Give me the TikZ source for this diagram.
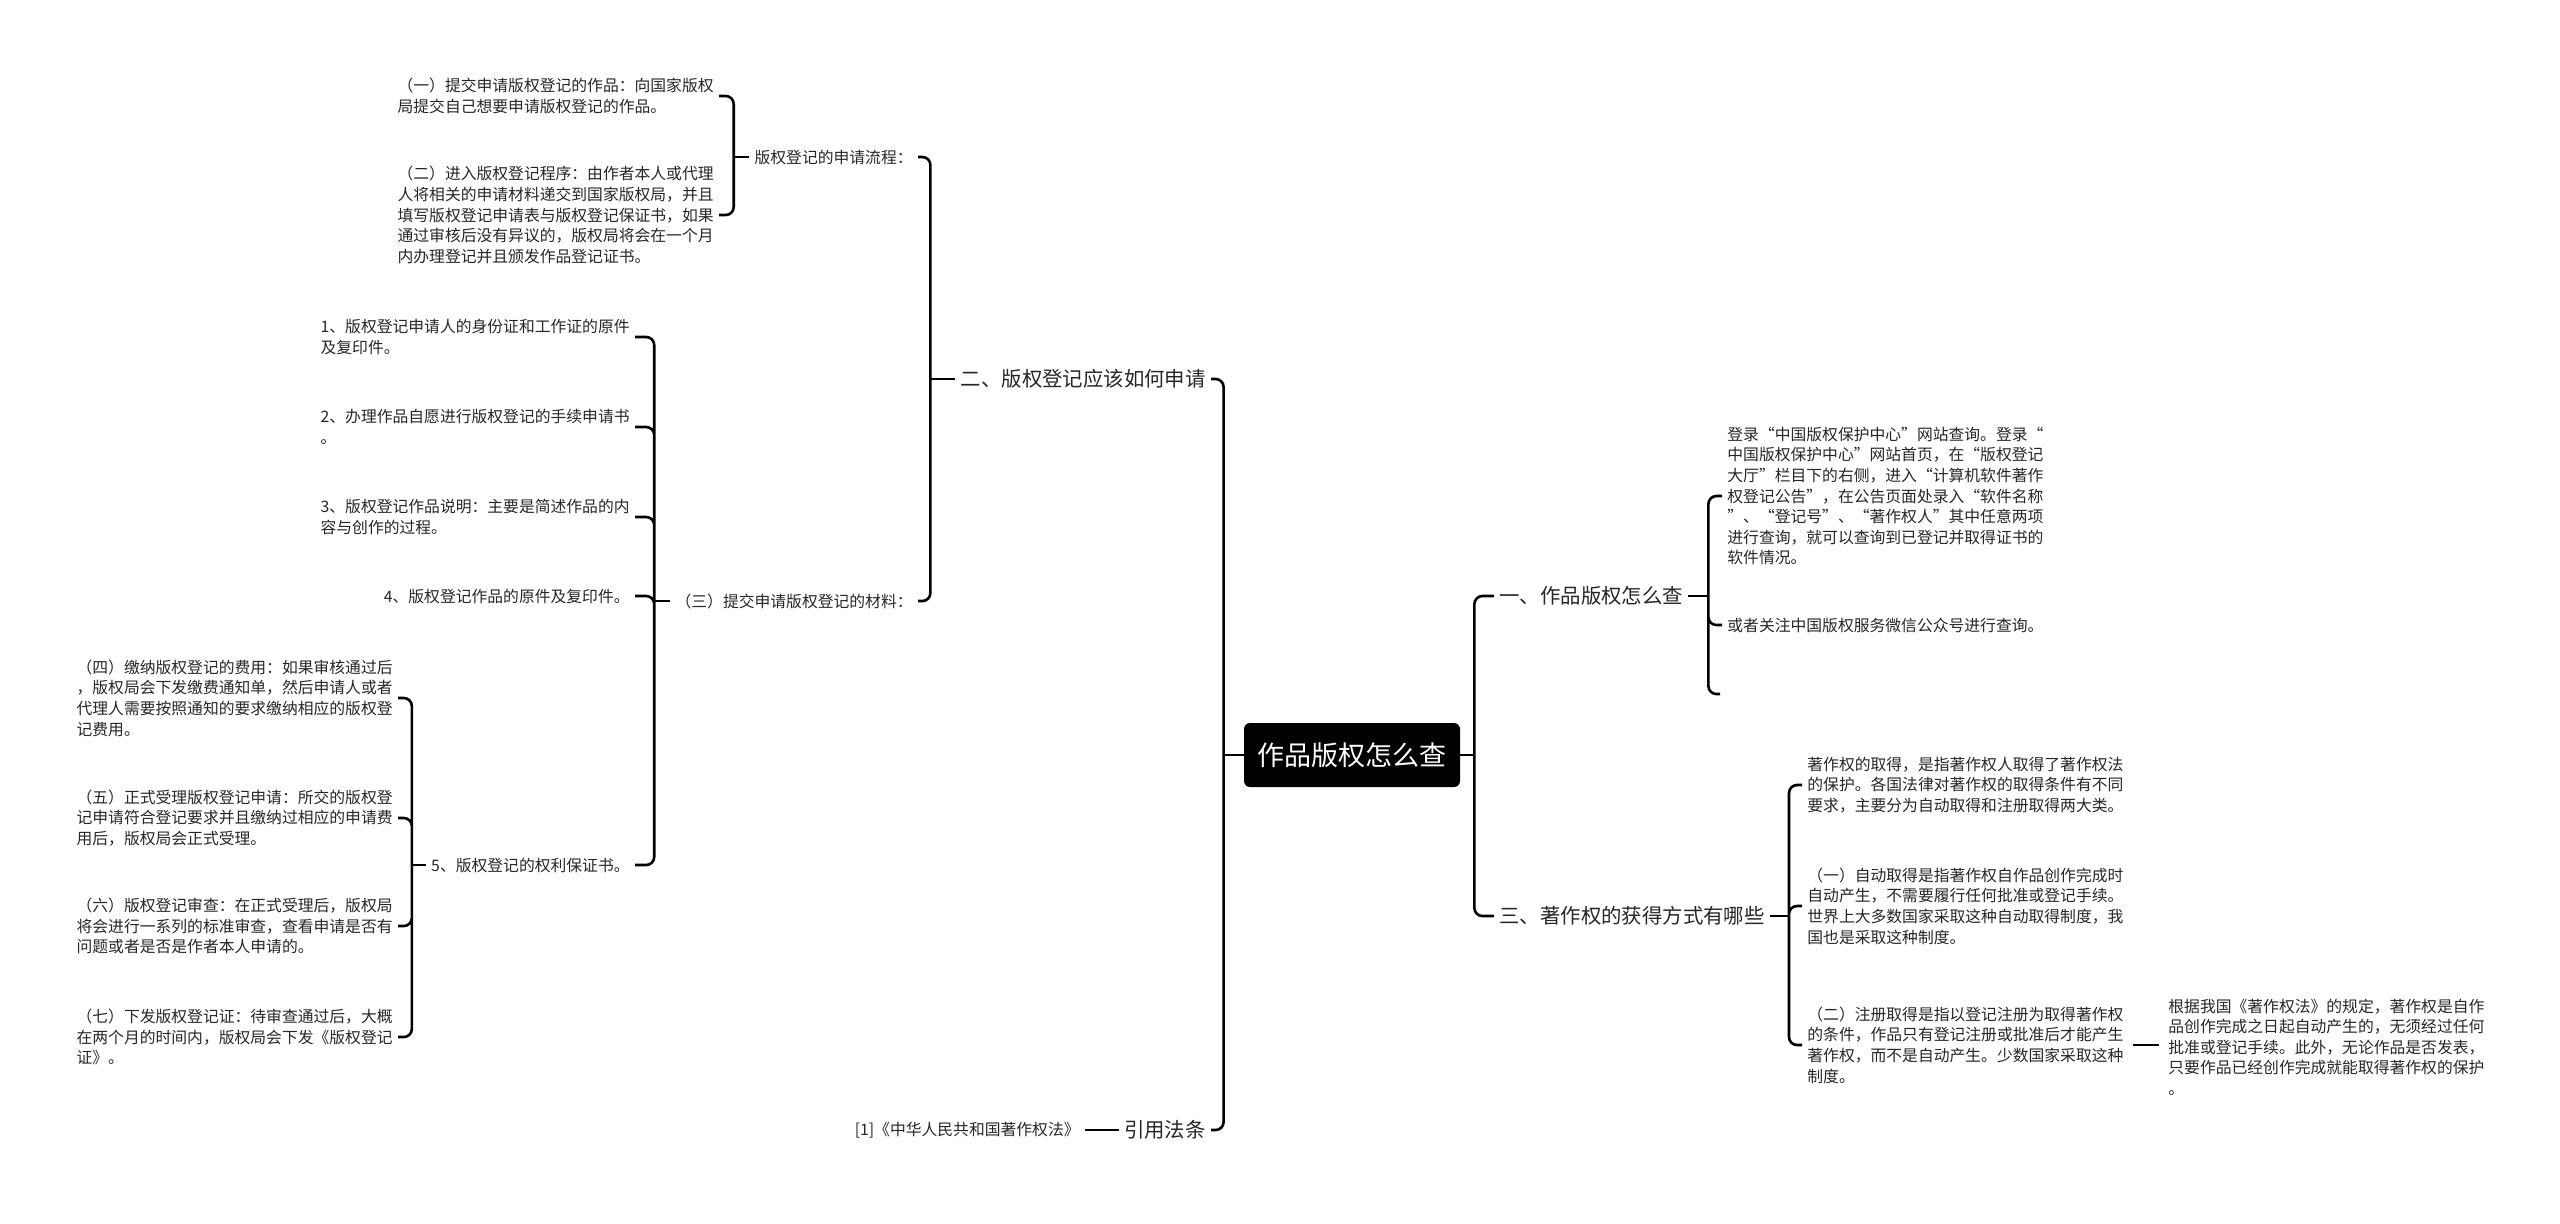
\documentclass[tikz,border=0pt]{standalone}
\usepackage{fontspec}
\setmainfont{Noto Sans CJK SC}

\begin{document}
\begin{tikzpicture}[
  x=0.5pt, y=-0.5pt,
  link/.style={line width=1.3pt, rounded corners=4pt},
  rootbox/.style={fill=black, text=white, rounded corners=3pt, minimum width=108pt, minimum height=32pt, inner sep=0pt, font=\fontsize{13.5}{16}\selectfont},
  topic/.style={text=black!85, inner xsep=2.5pt, inner ysep=1pt, font=\fontsize{10.2}{12}\selectfont},
  leaf/.style={text=black!85, inner xsep=2.5pt, inner ysep=1pt, align=left, font=\fontsize{7.9}{10.3}\selectfont}
]
\useasboundingbox (0,0) rectangle (2560,1223);
\node[rootbox] (root) at (1352,755) {作品版权怎么查};

\node[topic, anchor=east] (apply) at (1211,379) {二、版权登记应该如何申请};
\node[topic, anchor=east] (cite) at (1211,1130) {引用法条};
\node[topic, anchor=west] (query) at (1494,596) {一、作品版权怎么查};
\node[topic, anchor=west] (gain) at (1494,916) {三、著作权的获得方式有哪些};

\node[leaf, anchor=east] (flow) at (918,157) {版权登记的申请流程：};
\node[leaf, anchor=east] (docs) at (918,601) {（三）提交申请版权登记的材料：};

\node[leaf, anchor=east] (flowa) at (719,96) {（一）提交申请版权登记的作品：向国家版权\\局提交自己想要申请版权登记的作品。};
\node[leaf, anchor=east] (flowb) at (719,215) {（二）进入版权登记程序：由作者本人或代理\\人将相关的申请材料递交到国家版权局，并且\\填写版权登记申请表与版权登记保证书，如果\\通过审核后没有异议的，版权局将会在一个月\\内办理登记并且颁发作品登记证书。};

\node[leaf, anchor=east] (doca) at (635,337) {1、版权登记申请人的身份证和工作证的原件\\及复印件。};
\node[leaf, anchor=east] (docb) at (635,427) {2、办理作品自愿进行版权登记的手续申请书\\。};
\node[leaf, anchor=east] (docc) at (635,517) {3、版权登记作品说明：主要是简述作品的内\\容与创作的过程。};
\node[leaf, anchor=east] (docd) at (635,596) {4、版权登记作品的原件及复印件。};
\node[leaf, anchor=east] (doce) at (635,865) {5、版权登记的权利保证书。};

\node[leaf, anchor=east] (fee) at (398,698) {（四）缴纳版权登记的费用：如果审核通过后\\，版权局会下发缴费通知单，然后申请人或者\\代理人需要按照通知的要求缴纳相应的版权登\\记费用。};
\node[leaf, anchor=east] (accept) at (398,818) {（五）正式受理版权登记申请：所交的版权登\\记申请符合登记要求并且缴纳过相应的申请费\\用后，版权局会正式受理。};
\node[leaf, anchor=east] (review) at (398,926) {（六）版权登记审查：在正式受理后，版权局\\将会进行一系列的标准审查，查看申请是否有\\问题或者是否是作者本人申请的。};
\node[leaf, anchor=east] (issue) at (398,1037) {（七）下发版权登记证：待审查通过后，大概\\在两个月的时间内，版权局会下发《版权登记\\证》。};

\node[leaf, anchor=east] (law) at (1085,1130) {[1]《中华人民共和国著作权法》};

\node[leaf, anchor=west] (site) at (1722,496) {登录“中国版权保护中心”网站查询。登录“\\中国版权保护中心”网站首页，在“版权登记\\大厅”栏目下的右侧，进入“计算机软件著作\\权登记公告”，在公告页面处录入“软件名称\\”、“登记号”、“著作权人”其中任意两项\\进行查询，就可以查询到已登记并取得证书的\\软件情况。};
\node[leaf, anchor=west] (wechat) at (1722,625) {或者关注中国版权服务微信公众号进行查询。};
\coordinate (blank) at (1720,694);

\node[leaf, anchor=west] (gaina) at (1802,785) {著作权的取得，是指著作权人取得了著作权法\\的保护。各国法律对著作权的取得条件有不同\\要求，主要分为自动取得和注册取得两大类。};
\node[leaf, anchor=west] (gainb) at (1802,906) {（一）自动取得是指著作权自作品创作完成时\\自动产生，不需要履行任何批准或登记手续。\\世界上大多数国家采取这种自动取得制度，我\\国也是采取这种制度。};
\node[leaf, anchor=west] (gainc) at (1802,1045) {（二）注册取得是指以登记注册为取得著作权\\的条件，作品只有登记注册或批准后才能产生\\著作权，而不是自动产生。少数国家采取这种\\制度。};
\node[leaf, anchor=west] (rule) at (2163,1047) {根据我国《著作权法》的规定，著作权是自作\\品创作完成之日起自动产生的，无须经过任何\\批准或登记手续。此外，无论作品是否发表，\\只要作品已经创作完成就能取得著作权的保护\\。};

\draw[link] (root.west) -- ++(-20,0) coordinate (jl);
\draw[link] (jl) |- (apply.east) (jl) |- (cite.east);
\draw[link] (cite.west) -- (law.east);
\draw[link] (root.east) -- ++(14,0) coordinate (jr);
\draw[link] (jr) |- (query.west) (jr) |- (gain.west);

\draw[link] (apply.west) -- ++(-25,0) coordinate (ja);
\draw[link] (ja) |- (flow.east) (ja) |- (docs.east);
\draw[link] (flow.west) -- ++(-15.5,0) coordinate (jf);
\draw[link] (jf) |- (flowa.east) (jf) |- (flowb.east);
\draw[link] (docs.west) -- ++(-16,0) coordinate (jd);
\draw[link] (jd) |- (doca.east) (jd) |- (docb.east) (jd) |- (docc.east) (jd) |- (docd.east) (jd) |- (doce.east);
\draw[link] (doce.west) -- ++(-14,0) coordinate (je);
\draw[link] (je) |- (fee.east) (je) |- (accept.east) (je) |- (review.east) (je) |- (issue.east);

\draw[link] (query.east) -- ++(20,0) coordinate (jq);
\draw[link] (jq) |- (site.west) (jq) |- (wechat.west) (jq) |- (blank);
\draw[link] (gain.east) -- ++(19,0) coordinate (jg);
\draw[link] (jg) |- (gaina.west) (jg) |- (gainb.west) (jg) |- (gainc.west);
\draw[link, shorten <=2pt, shorten >=2pt] (gainc.east) -- (gainc.east -| rule.west);
\end{tikzpicture}
\end{document}
